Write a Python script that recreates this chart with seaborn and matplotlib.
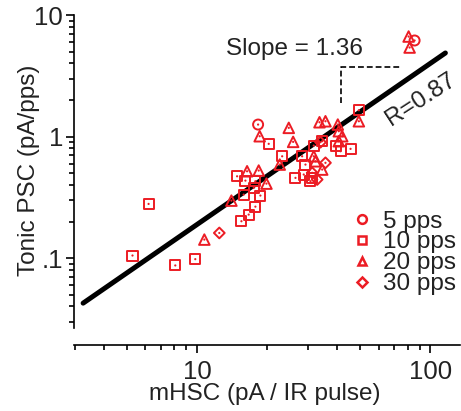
import numpy as np
import pandas as pd
import matplotlib
matplotlib.use("Agg")
import matplotlib.pyplot as plt
import matplotlib.ticker as mticker
from matplotlib.lines import Line2D
import seaborn as sns

# ---- data ----
x_5 = [18.27, 85.6]
y_5 = [1.255, 6.17]

x_10 = [5.29, 6.20, 8.07, 9.83, 14.85, 16.12, 15.85, 17.50, 17.79, 18.69, 17.79, 16.65, 15.50,
        20.29, 23.17, 26.42, 28.22, 30.64, 34.39, 31.65, 39.23, 41.21, 45.50, 49.39, 29.16, 31.16, 28.67]
y_10 = [0.105, 0.279, 0.087, 0.098, 0.471, 0.434, 0.333, 0.378, 0.429, 0.327, 0.265, 0.228, 0.201,
        0.871, 0.688, 0.457, 0.688, 0.429, 0.915, 0.843, 0.832, 0.757, 0.792, 1.646, 0.588, 0.457, 0.487]

x_20 = [10.75, 14.04, 16.39, 18.38, 19.84, 18.56, 24.73, 25.82, 22.62, 33.49, 35.52, 31.65,
        40.12, 40.52, 41.91, 40.52, 49.39, 80.7, 81.5, 32.19, 34.39]
y_20 = [0.142, 0.297, 0.518, 0.525, 0.410, 1.006, 1.179, 0.904, 0.588, 1.311, 1.336, 0.688,
        1.255, 1.106, 1.006, 0.915, 1.336, 6.65, 5.40, 0.626, 0.535]

x_30 = [12.46, 33.82, 32.73, 31.16, 35.52]
y_30 = [0.161, 0.898, 0.443, 0.503, 0.608]

groups = ["5 pps", "10 pps", "20 pps", "30 pps"]
group_markers = {"5 pps": "o", "10 pps": "s", "20 pps": "^", "30 pps": "D"}

# regression line end points and slope-triangle guide
fit_x = [3.25, 116.0]
fit_y = [0.0426, 4.87]
guide_x = [41.4, 41.4, 75.5]
guide_y = [1.89, 3.75, 3.75]

slope_text = "Slope = 1.36"
r_text = "R=0.87"
x_label = "mHSC (pA / IR pulse)"
y_label = "Tonic PSC (pA/pps)"
ytick_vals = [0.1, 1, 10]
ytick_labels = [".1", "1", "10"]
xtick_vals = [10, 100]
xtick_labels = ["10", "100"]

# ---- build table ----
rows = []
for g, xs, ys in zip(groups, [x_5, x_10, x_20, x_30], [y_5, y_10, y_20, y_30]):
    for a, b in zip(xs, ys):
        rows.append({"mHSC": a, "PSC": b, "rate": g})
df = pd.DataFrame(rows)

sns.set_theme(style="ticks")
plt.rcParams["font.family"] = ["Liberation Sans", "DejaVu Sans"]

RED = "#EC1C24"
fig = plt.figure(figsize=(4.61, 4.11), dpi=100)
ax = fig.add_axes([74 / 461, 1 - 328 / 411, 386 / 461, 313 / 411])

sns.lineplot(x=fit_x, y=fit_y, ax=ax, color="black", linewidth=3.6, zorder=2,
             estimator=None, sort=False)
ax.plot(guide_x, guide_y, color="black", linestyle=(0, (3.5, 1.8)), linewidth=1.2, zorder=2)

sizes = {"o": 52, "s": 52, "^": 58, "D": 30}
for g in groups:
    sub = df[df["rate"] == g]
    m = group_markers[g]
    sns.scatterplot(data=sub, x="mHSC", y="PSC", ax=ax, marker=m, s=sizes[m],
                    color=RED, facecolor="none", edgecolor=RED, linewidth=1.4,
                    zorder=3, legend=False)
    sns.scatterplot(data=sub, x="mHSC", y="PSC", ax=ax, marker="o", s=2.5,
                    color=RED, edgecolor="none", linewidth=0, zorder=3, legend=False)

ax.set_xscale("log")
ax.set_yscale("log")
ax.set_xlim(2.97, 134)
ax.set_ylim(0.0266, 10)

ax.yaxis.set_major_locator(mticker.FixedLocator(ytick_vals))
ax.yaxis.set_major_formatter(mticker.FixedFormatter(ytick_labels))
ax.yaxis.set_minor_locator(mticker.LogLocator(base=10, subs=np.arange(2, 10)))
ax.yaxis.set_minor_formatter(mticker.NullFormatter())
ax.xaxis.set_major_locator(mticker.FixedLocator(xtick_vals))
ax.xaxis.set_major_formatter(mticker.FixedFormatter(xtick_labels))
ax.xaxis.set_minor_locator(mticker.LogLocator(base=10, subs=np.arange(2, 10)))
ax.xaxis.set_minor_formatter(mticker.NullFormatter())

for s in ["top", "right"]:
    ax.spines[s].set_visible(False)
ax.spines["left"].set_linewidth(1.2)
ax.spines["bottom"].set_linewidth(1.2)
ax.spines["bottom"].set_position(("outward", 12))
ax.spines["left"].set_color("black")
ax.spines["bottom"].set_color("black")

ax.tick_params(axis="both", which="major", length=6, width=1.2, color="black",
               labelsize=18.5, labelcolor="#222222", direction="out")
ax.tick_params(axis="both", which="minor", length=3.5, width=1.2, color="black", direction="out")
ax.tick_params(axis="y", which="major", pad=2)
ax.tick_params(axis="x", which="major", pad=5)

ax.set_xlabel(x_label, fontsize=17.5, color="#222222")
ax.set_ylabel(y_label, fontsize=17.5, color="#222222")
ax.xaxis.set_label_coords(0.495, -0.176)
ax.yaxis.set_label_coords(-0.088, 0.505)

ax.text(13.36, 5.3, slope_text, fontsize=17.5, color="#222222", ha="left", va="center")
ax.text(91.0, 2.02, r_text, fontsize=17.5, color="#222222", ha="center", va="center",
        rotation=33, rotation_mode="anchor")

handles = [Line2D([], [], linestyle="none", marker=group_markers[g],
                  markersize=6.3 if group_markers[g] != "D" else 4.6,
                  markerfacecolor="none", markeredgecolor=RED, markeredgewidth=1.8) for g in groups]
leg = ax.legend(handles, groups, loc="upper left", bbox_to_anchor=(0.715, 0.375),
                frameon=False, fontsize=17.5, handlelength=1.0, handletextpad=0.35,
                labelspacing=-0.05, borderaxespad=0, borderpad=0)
for t in leg.get_texts():
    t.set_color("#222222")

fig.savefig("out.png", dpi=100)
